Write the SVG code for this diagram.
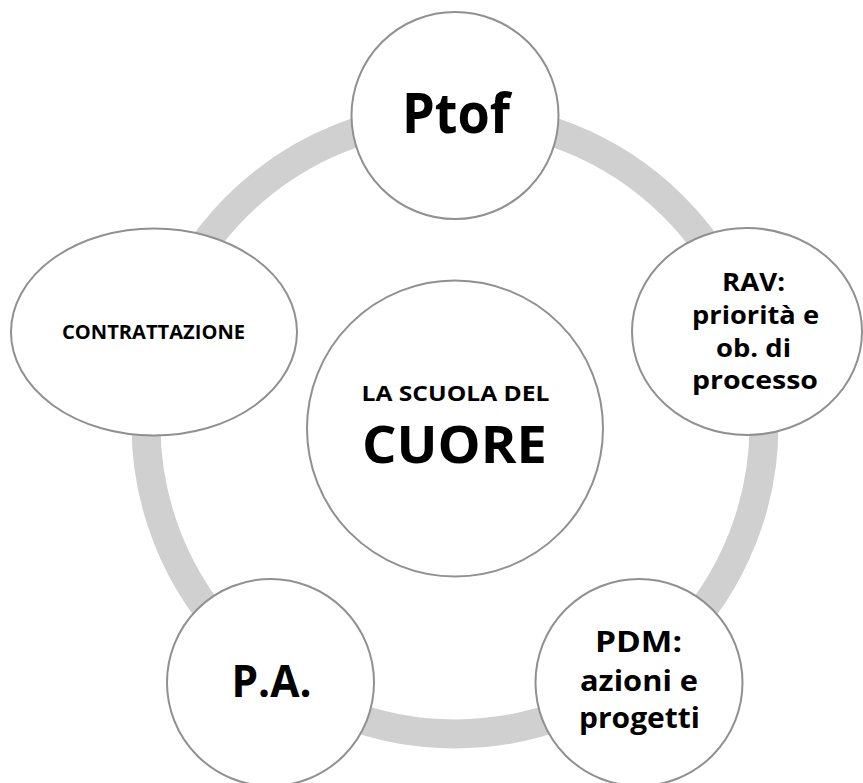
<svg xmlns="http://www.w3.org/2000/svg" width="863" height="783" viewBox="0 0 863 783">
  <style>
    .node { fill: #ffffff; stroke: #909090; stroke-width: 2; }
    .lbl { font-family: "Open Sans", Lato, "Liberation Sans", sans-serif; font-weight: bold; fill: #000000; text-anchor: middle; }
    .ring { fill: none; stroke: #d0d0d0; stroke-width: 29; }
  </style>
  <rect x="0" y="0" width="863" height="783" fill="#ffffff"/>
  <g id="connectors">
    <circle class="ring" cx="455" cy="425" r="309"/>
  </g>
  <g id="node-ptof">
    <circle class="node" cx="455" cy="115.5" r="103.5"/>
    <text class="lbl" x="456" y="133.3" font-size="56" textLength="108" lengthAdjust="spacingAndGlyphs">Ptof</text>
  </g>
  <g id="node-rav">
    <ellipse class="node" cx="747" cy="331.5" rx="115" ry="103.5"/>
    <text class="lbl" x="753.5" y="290.5" font-size="25" textLength="63" lengthAdjust="spacingAndGlyphs">RAV:</text>
    <text class="lbl" x="755.5" y="323.5" font-size="25" textLength="127" lengthAdjust="spacingAndGlyphs">priorità e</text>
    <text class="lbl" x="753.5" y="356.5" font-size="25" textLength="75" lengthAdjust="spacingAndGlyphs">ob. di</text>
    <text class="lbl" x="755" y="389" font-size="25" textLength="126" lengthAdjust="spacingAndGlyphs">processo</text>
  </g>
  <g id="node-pdm">
    <circle class="node" cx="639" cy="682.5" r="103.5"/>
    <text class="lbl" x="638.5" y="651.7" font-size="29.3" textLength="87" lengthAdjust="spacingAndGlyphs">PDM:</text>
    <text class="lbl" x="639" y="690.5" font-size="29.3" textLength="118" lengthAdjust="spacingAndGlyphs">azioni e</text>
    <text class="lbl" x="639.5" y="728.3" font-size="29.3" textLength="121" lengthAdjust="spacingAndGlyphs">progetti</text>
  </g>
  <g id="node-pa">
    <circle class="node" cx="270.5" cy="682.5" r="103.5"/>
    <text class="lbl" x="271.5" y="696.7" font-size="45.6" textLength="80" lengthAdjust="spacingAndGlyphs">P.A.</text>
  </g>
  <g id="node-contrattazione">
    <ellipse class="node" cx="154" cy="332" rx="143" ry="103.5"/>
    <text class="lbl" x="153.5" y="339.3" font-size="20" textLength="183" lengthAdjust="spacingAndGlyphs">CONTRATTAZIONE</text>
  </g>
  <g id="node-center">
    <circle class="node" cx="455" cy="428.5" r="148"/>
    <text class="lbl" x="455.5" y="400.7" font-size="22" textLength="188" lengthAdjust="spacingAndGlyphs">LA SCUOLA DEL</text>
    <text class="lbl" x="454.5" y="462.7" font-size="52.6" textLength="185" lengthAdjust="spacingAndGlyphs">CUORE</text>
  </g>
</svg>
